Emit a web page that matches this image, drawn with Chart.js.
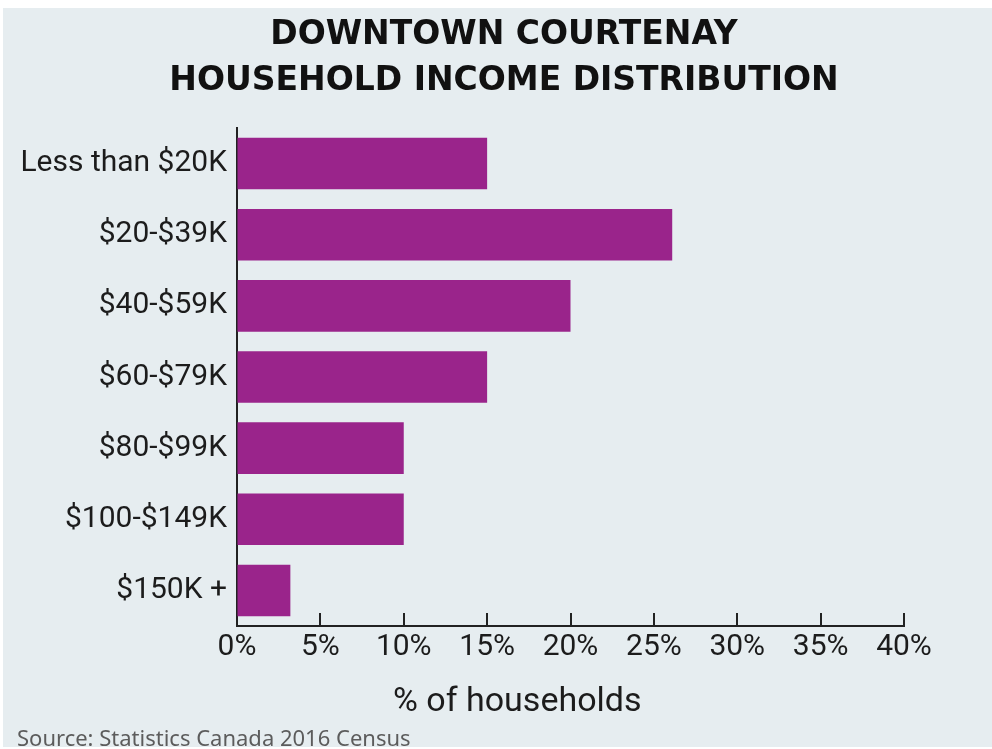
<!DOCTYPE html>
<html>
<head>
<meta charset="utf-8">
<script src="https://cdn.jsdelivr.net/npm/chart.js@4.4.1/dist/chart.umd.min.js"></script>
<style>
  body { margin: 0; background: #fff; overflow: hidden; }
  #bg { position: absolute; left: 3px; top: 8px; width: 989px; height: 739px; background: #e6edf0; }
  #box { position: absolute; left: 8px; top: 0; width: 992px; height: 749px; }
  .note { position: absolute; white-space: nowrap; line-height: 1; }
  #xTitle { left: 393px; top: 679px; font: 34px Roboto, sans-serif; color: #1c1c1c; }
  #source { left: 17px; top: 722px; font: 22px "Noto Sans", sans-serif; color: #5c5c5c; }
</style>
</head>
<body>
<div id="bg"></div>
<div id="box"><canvas id="incomeChart"></canvas></div>
<div class="note" id="xTitle">% of households</div>
<div class="note" id="source">Source: Statistics Canada 2016 Census</div>

<script>
  // data
  const categories = ['Less than $20K', '$20-$39K', '$40-$59K', '$60-$79K', '$80-$99K', '$100-$149K', '$150K +'];
  const shares = [15, 26.1, 20, 15, 10, 10, 3.2];
  const xTickValues = [0, 5, 10, 15, 20, 25, 30, 35, 40];
  const titleLines = ['DOWNTOWN COURTENAY', 'HOUSEHOLD INCOME DISTRIBUTION'];

  const ink = '#1c1c1c';
  const axisColor = '#222';

  // small tick marks that point up into the plot
  const upTicks = {
    id: 'upTicks',
    afterDraw(chart) {
      const x = chart.scales.x;
      const ctx = chart.ctx;
      const y0 = chart.chartArea.bottom;
      ctx.save();
      ctx.strokeStyle = axisColor;
      ctx.lineWidth = 2;
      xTickValues.forEach(v => {
        if (v === 0) return;
        const px = Math.round(x.getPixelForValue(v));
        ctx.beginPath();
        ctx.moveTo(px, y0 - 13);
        ctx.lineTo(px, y0 + 1);
        ctx.stroke();
      });
      ctx.restore();
    }
  };

  const ctx = document.getElementById('incomeChart').getContext('2d');
  new Chart(ctx, {
    type: 'bar',
    data: {
      labels: categories,
      datasets: [{
        data: shares,
        backgroundColor: '#9a248b',
        barPercentage: 0.725,
        categoryPercentage: 1
      }]
    },
    options: {
      indexAxis: 'y',
      responsive: true,
      maintainAspectRatio: false,
      animation: false,
      layout: { padding: 0 },
      plugins: {
        legend: { display: false },
        tooltip: { enabled: false },
        title: {
          display: true,
          text: titleLines,
          color: '#111',
          font: { family: '"DejaVu Sans"', size: 33, weight: 'bold', lineHeight: 1.394 },
          padding: { top: 12, bottom: 24 }
        }
      },
      scales: {
        x: {
          type: 'linear',
          min: 0,
          max: 40,
          afterBuildTicks: scale => {
            scale.ticks = xTickValues.map(v => ({ value: v }));
          },
          afterFit: scale => { scale.height = 123; },
          grid: { drawOnChartArea: false, drawTicks: false },
          border: { display: true, color: axisColor, width: 2 },
          ticks: {
            callback: v => v + '%',
            color: ink,
            padding: 3,
            maxRotation: 0,
            font: { family: 'Roboto', size: 30 }
          }
        },
        y: {
          afterFit: scale => { scale.width = 229; },
          grid: { drawOnChartArea: false, drawTicks: false },
          border: { display: true, color: axisColor, width: 2 },
          ticks: {
            color: ink,
            padding: 10,
            font: { family: 'Roboto', size: 30 }
          }
        },
        // empty right-hand axis, only reserves the blank strip right of 40%
        yRight: {
          type: 'category',
          position: 'right',
          afterFit: scale => { scale.width = 96; },
          grid: { display: false },
          border: { display: false },
          ticks: { display: false }
        }
      }
    },
    plugins: [upTicks]
  });
</script>
</body>
</html>
